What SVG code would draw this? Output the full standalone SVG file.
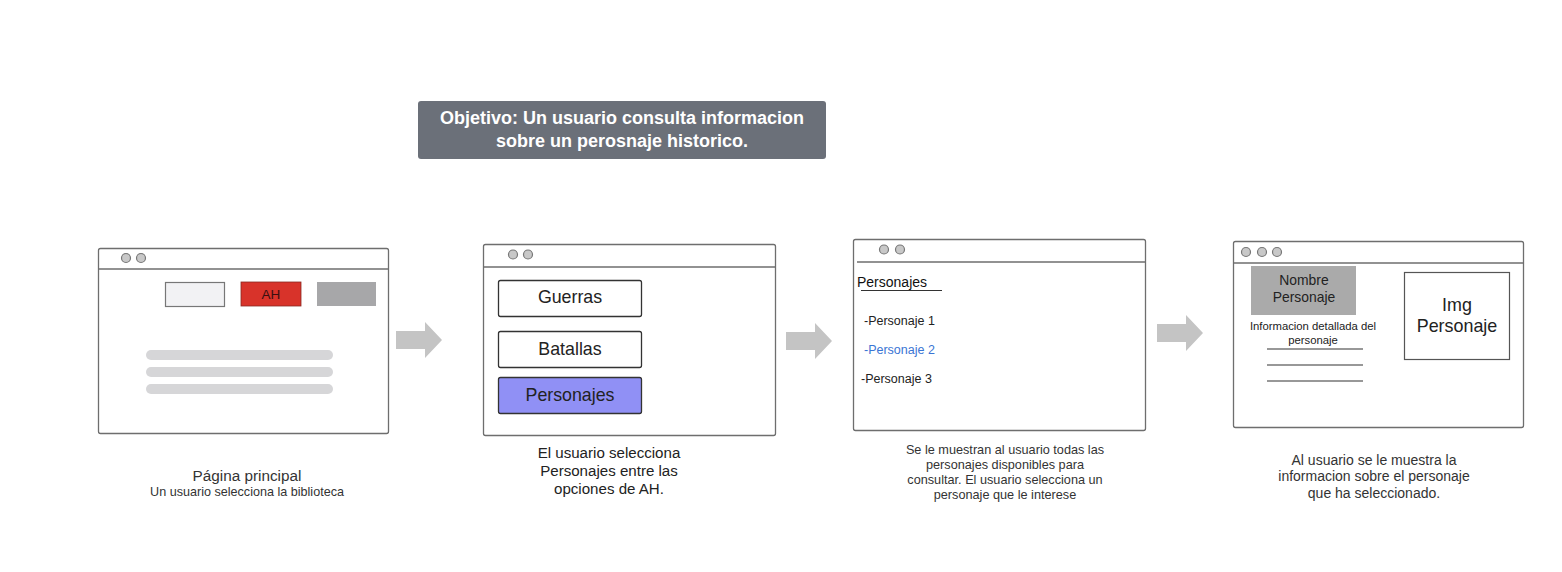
<svg xmlns="http://www.w3.org/2000/svg" width="1562" height="572" viewBox="0 0 1562 572">
<defs>
<style>
text{font-family:"Liberation Sans",Arial,sans-serif;}
.win{fill:#fff;stroke:#6e6e6e;stroke-width:1.3;}
.bar{stroke:#6e6e6e;stroke-width:1.3;}
.dot{fill:#c8c8c8;stroke:#777;stroke-width:1.2;}
.lbl{fill:#222;text-anchor:middle;}
.cap{fill:#333;text-anchor:middle;}
.arrow{fill:#c4c4c4;}
.rule{stroke:#333;stroke-width:1.2;}
</style>
</defs>
<rect width="1562" height="572" fill="#fff"/>

<g id="goal">
<rect x="418" y="101" width="408" height="58" rx="3" fill="#6b7079"/>
<text x="622" y="124" font-size="18" font-weight="bold" fill="#fff" text-anchor="middle">Objetivo: Un usuario consulta informacion</text>
<text x="622" y="147" font-size="18" font-weight="bold" fill="#fff" text-anchor="middle">sobre un perosnaje historico.</text>
</g>

<g id="screen1">
<rect class="win" x="98.5" y="248.5" width="290" height="185" rx="2"/>
<line class="bar" x1="98.5" y1="269" x2="388.5" y2="269"/>
<circle class="dot" cx="126" cy="258" r="4.5"/>
<circle class="dot" cx="141" cy="258" r="4.5"/>
<rect x="165.5" y="282.5" width="59" height="24" fill="#f2f2f4" stroke="#777" stroke-width="1.2"/>
<rect x="241" y="282" width="60" height="24" fill="#d8332a" stroke="#8a2a22" stroke-width="0.8"/>
<text x="271" y="299" font-size="13.5" fill="#3a1010" text-anchor="middle">AH</text>
<rect x="317" y="282" width="59" height="24" fill="#a7a7a9"/>
<rect x="146" y="350" width="187" height="10" rx="5" fill="#d6d6d8"/>
<rect x="146" y="367" width="187" height="10" rx="5" fill="#d6d6d8"/>
<rect x="146" y="384" width="187" height="10" rx="5" fill="#d6d6d8"/>
<text class="cap" x="247" y="481" font-size="15.3" fill="#444">Página principal</text>
<text class="cap" x="247" y="496" font-size="12.6">Un usuario selecciona la biblioteca</text>
</g>

<g id="screen2">
<rect class="win" x="483.5" y="244.5" width="292" height="191" rx="2"/>
<line class="bar" x1="483.5" y1="267" x2="775.5" y2="267"/>
<circle class="dot" cx="513" cy="254.5" r="4.5"/>
<circle class="dot" cx="528" cy="254.5" r="4.5"/>
<rect x="498.5" y="280.5" width="143" height="36" rx="2" fill="#fff" stroke="#333" stroke-width="1.3"/>
<text class="lbl" x="570" y="303" font-size="17.8">Guerras</text>
<rect x="498.5" y="331.5" width="143" height="36" rx="2" fill="#fff" stroke="#333" stroke-width="1.3"/>
<text class="lbl" x="570" y="355" font-size="17.8">Batallas</text>
<rect x="498.5" y="377.5" width="143" height="36" rx="2" fill="#9090f5" stroke="#333" stroke-width="1.3"/>
<text class="lbl" x="570" y="401" font-size="17.8">Personajes</text>
<text class="lbl" x="609" y="458" font-size="15.1">El usuario selecciona</text>
<text class="lbl" x="609" y="476" font-size="15.1">Personajes entre las</text>
<text class="lbl" x="609" y="494" font-size="15.1">opciones de AH.</text>
</g>

<g id="screen3">
<rect class="win" x="853.5" y="239.5" width="292" height="191" rx="2"/>
<line class="bar" x1="857" y1="262" x2="1145.5" y2="262"/>
<circle class="dot" cx="884" cy="249.5" r="4.5"/>
<circle class="dot" cx="900" cy="249.5" r="4.5"/>
<text x="857" y="287" font-size="14" fill="#111">Personajes</text>
<line class="rule" x1="861" y1="290.5" x2="942" y2="290.5"/>
<text x="864" y="325" font-size="12.5" fill="#222">-Personaje 1</text>
<text x="864" y="354" font-size="12.5" fill="#3a75d4">-Personaje 2</text>
<text x="861" y="383" font-size="12.5" fill="#222">-Personaje 3</text>
<text class="cap" x="1005" y="454" font-size="12.7">Se le muestran al usuario todas las</text>
<text class="cap" x="1005" y="469" font-size="12.7">personajes disponibles para</text>
<text class="cap" x="1005" y="484" font-size="12.7">consultar. El usuario selecciona un</text>
<text class="cap" x="1005" y="499" font-size="12.7">personaje que le interese</text>
</g>

<g id="screen4">
<rect class="win" x="1233.5" y="241.5" width="290" height="186" rx="2"/>
<line class="bar" x1="1233.5" y1="263" x2="1523.5" y2="263"/>
<circle class="dot" cx="1246" cy="252" r="4.5"/>
<circle class="dot" cx="1262" cy="252" r="4.5"/>
<circle class="dot" cx="1277" cy="252" r="4.5"/>
<rect x="1251" y="266" width="105" height="49" fill="#aaaaaa"/>
<text class="lbl" x="1304" y="285" font-size="13.9">Nombre</text>
<text class="lbl" x="1304" y="302" font-size="13.9">Personaje</text>
<text class="lbl" x="1313" y="330" font-size="11.3">Informacion detallada del</text>
<text class="lbl" x="1313" y="344" font-size="11.3">personaje</text>
<line class="rule" x1="1267" y1="349" x2="1363" y2="349"/>
<line class="rule" x1="1267" y1="365" x2="1363" y2="365"/>
<line class="rule" x1="1267" y1="381" x2="1363" y2="381"/>
<rect x="1404.5" y="272.5" width="105" height="87" fill="#fff" stroke="#555" stroke-width="1.2"/>
<text class="lbl" x="1457" y="311" font-size="17.9" fill="#111">Img</text>
<text class="lbl" x="1457" y="332" font-size="17.9" fill="#111">Personaje</text>
<text class="cap" x="1374" y="465" font-size="14">Al usuario se le muestra la</text>
<text class="cap" x="1374" y="481" font-size="14">informacion sobre el personaje</text>
<text class="cap" x="1374" y="498" font-size="14">que ha seleccionado.</text>
</g>

<g id="connectors">
<polygon class="arrow" points="396,331 425,331 425,322 442,340 425,358 425,349 396,349"/>
<polygon class="arrow" points="786,332 815,332 815,323 832,341 815,359 815,350 786,350"/>
<polygon class="arrow" points="1157,324 1186,324 1186,315 1203,333 1186,351 1186,342 1157,342"/>
</g>
</svg>
